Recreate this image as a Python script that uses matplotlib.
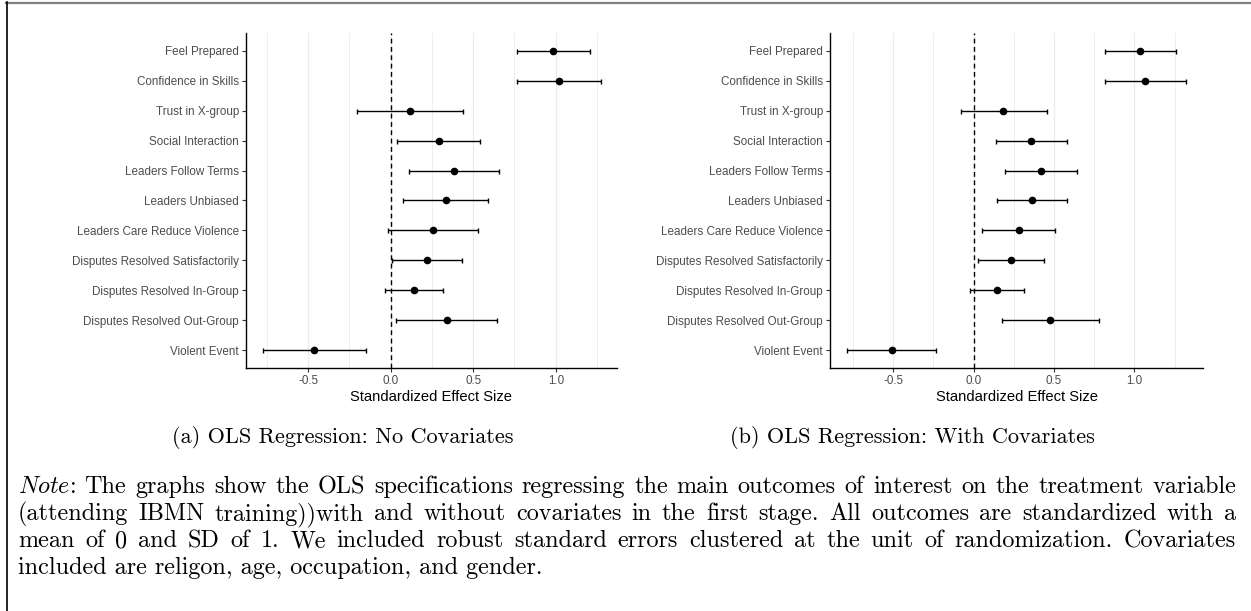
import matplotlib
matplotlib.use("Agg")
import matplotlib.pyplot as plt
from matplotlib.lines import Line2D
from matplotlib.ticker import MultipleLocator
import numpy as np

plt.rcParams['font.family'] = ['Liberation Sans', 'DejaVu Sans']
plt.rcParams['axes.unicode_minus'] = False
plt.rcParams['mathtext.fontset'] = 'cm'

# outcomes, top to bottom
outcomes = ["Feel Prepared", "Confidence in Skills", "Trust in X-group",
            "Social Interaction", "Leaders Follow Terms", "Leaders Unbiased",
            "Leaders Care Reduce Violence", "Disputes Resolved Satisfactorily",
            "Disputes Resolved In-Group", "Disputes Resolved Out-Group",
            "Violent Event"]

# (a) no covariates: estimate and CI bounds
est_a = [0.984, 1.019, 0.116, 0.291, 0.384, 0.333, 0.257, 0.221, 0.143, 0.340, -0.462]
lo_a = [0.763, 0.766, -0.205, 0.041, 0.109, 0.075, -0.018, 0.007, -0.032, 0.034, -0.775]
hi_a = [1.208, 1.274, 0.437, 0.539, 0.656, 0.588, 0.532, 0.432, 0.316, 0.645, -0.148]

# (b) with covariates
est_b = [1.037, 1.067, 0.185, 0.356, 0.420, 0.360, 0.279, 0.232, 0.148, 0.478, -0.511]
lo_b = [0.815, 0.815, -0.081, 0.136, 0.198, 0.146, 0.054, 0.030, -0.025, 0.177, -0.790]
hi_b = [1.262, 1.323, 0.454, 0.578, 0.644, 0.578, 0.504, 0.437, 0.316, 0.777, -0.232]

caption_a = "(a) OLS Regression: No Covariates"
caption_b = "(b) OLS Regression: With Covariates"
note_lines = [
    r"$\mathit{Note}$: The graphs show the OLS specifications regressing the main outcomes of interest on the treatment variable",
    "(attending IBMN training))with and without covariates in the first stage. All outcomes are standardized with a",
    "mean of 0 and SD of 1. We included robust standard errors clustered at the unit of randomization. Covariates",
    "included are religon, age, occupation, and gender.",
]

W, H = 1251, 611
fig = plt.figure(figsize=(W / 100, H / 100), dpi=100)


def px(x, y, w, h):
    return [x / W, 1 - (y + h) / H, w / W, h / H]


def panel(rect, est, lo, hi, xlim):
    ax = fig.add_axes(rect)
    est, lo, hi = np.array(est), np.array(lo), np.array(hi)
    y = np.arange(len(outcomes))
    ax.set_xlim(xlim)
    ax.set_ylim(len(outcomes) - 1 + 0.6, -0.6)
    ax.xaxis.set_major_locator(MultipleLocator(0.5))
    ax.xaxis.set_minor_locator(MultipleLocator(0.25))
    ax.grid(True, axis='x', which='major', color='#EBEBEB', lw=0.8)
    ax.grid(True, axis='x', which='minor', color='#EBEBEB', lw=0.6)
    ax.set_axisbelow(True)
    ax.axvline(0, color='black', lw=1.0, ls=(0, (3.5, 2.5)), zorder=2)
    ax.errorbar(est, y, xerr=[est - lo, hi - est], fmt='o', color='black',
                ms=4.5, lw=1.0, capsize=1.8, capthick=1.0, zorder=3)
    ax.set_yticks(y)
    ax.set_yticklabels(outcomes)
    for s in ['top', 'right']:
        ax.spines[s].set_visible(False)
    for s in ['left', 'bottom']:
        ax.spines[s].set_linewidth(1.0)
        ax.spines[s].set_color('black')
    ax.tick_params(which='major', length=2.6, width=0.8, color='#333333',
                   labelsize=8.4, labelcolor='#4D4D4D', pad=2.5)
    ax.tick_params(which='minor', length=0)
    ax.set_xlabel("Standardized Effect Size", fontsize=10.6, color='black', labelpad=2.2)
    return ax


panel(px(246, 33, 371, 335), est_a, lo_a, hi_a, (-0.876, 1.371))
panel(px(830, 33, 373, 335), est_b, lo_b, hi_b, (-0.894, 1.427))

# captions
cap = dict(fontfamily='cmr10', fontsize=16, color='black', va='baseline')
fig.text(343 / W, 1 - 443 / H, caption_a, ha='center', **cap)
fig.text(912 / W, 1 - 443 / H, caption_b, ha='center', **cap)

# justified note
serif = dict(fontfamily='cmr10', fontsize=17.4, color='black', va='baseline')
x0, x1 = 18, 1236
base = [493, 520, 547, 574]
renderer = fig.canvas.get_renderer()
for i, line in enumerate(note_lines):
    yb = 1 - base[i] / H
    if i == len(note_lines) - 1:
        fig.text(x0 / W, yb, line, ha='left', **serif)
        continue
    words = line.split(' ')
    texts = [fig.text(0, yb, w, ha='left', **serif) for w in words]
    widths = [t.get_window_extent(renderer).width for t in texts]
    gap = (x1 - x0 - sum(widths)) / (len(words) - 1)
    x = x0
    for t, w in zip(texts, widths):
        t.set_x(x / W)
        x += w + gap

# page frame
fig.add_artist(Line2D([6 / W, 1], [1 - 2.5 / H, 1 - 2.5 / H], color='#808080', lw=1.6,
                      transform=fig.transFigure))
fig.add_artist(Line2D([6.5 / W, 6.5 / W], [0, 1 - 2 / H], color='black', lw=1.2,
                      transform=fig.transFigure))

fig.savefig("out.png", dpi=100)
